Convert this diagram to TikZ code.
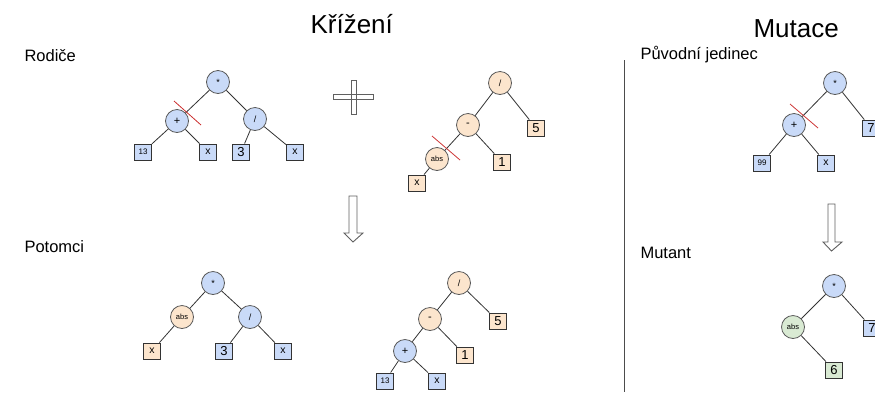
\documentclass[tikz,border=0pt]{standalone}
\usepackage{fontspec}
\setmainfont{Liberation Sans}
\definecolor{bl}{HTML}{C9DAF8}
\definecolor{or}{HTML}{FCE5CD}
\definecolor{gr}{HTML}{D9EAD3}
\definecolor{edgec}{HTML}{333333}
\definecolor{cutc}{HTML}{CC3333}
\begin{document}
\begin{tikzpicture}[x=1pt,y=-1pt,
  op/.style={circle, draw=gray!70!black, line width=0.8pt, minimum size=23pt, inner sep=0pt, font=\fontsize{9}{9}\selectfont},
  absop/.style={op, font=\fontsize{7.5}{7.5}\selectfont},
  leaf/.style={rectangle, draw=gray!40!black, line width=0.9pt, minimum width=17pt, minimum height=16pt, inner sep=0pt, font=\fontsize{13}{13}\selectfont},
  sleaf/.style={leaf, font=\fontsize{8}{8}\selectfont},
  xleaf/.style={leaf, font=\fontsize{10.5}{10.5}\selectfont},
  edge/.style={draw=edgec, line width=0.8pt},
  cut/.style={draw=cutc, line width=0.8pt},
  outl/.style={draw=gray!75!black, line width=0.9pt, fill=white},
  lab/.style={anchor=base west, font=\fontsize{16.5}{16.5}\selectfont},
  title/.style={anchor=base west, font=\fontsize{26}{26}\selectfont}]
\useasboundingbox (0,0) rectangle (875,392);
% titles and labels
\node[title] (tk) at (307,33) {Křížení};
\node[title] (tm) at (750,37) {Mutace};
\node[lab] (lr) at (21,61) {Rodiče};
\node[lab] (lp) at (21,252) {Potomci};
\node[lab] (lpj) at (637,59) {Původní jedinec};
\node[lab] (lm) at (637,258) {Mutant};
% separator
\coordinate (s1) at (624,60);
\coordinate (s2) at (624,392);
\draw[draw=gray!60!black, line width=0.9pt] (s1) -- (s2);
% plus sign
\draw[outl] (333,94) rectangle (373,99);
\draw[draw=gray!75!black, line width=0.9pt] (351,80) rectangle (356,114);
% arrows
\draw[outl] (349,196) -- (357,196) -- (357,233) -- (363,233) -- (353,242) -- (344,233) -- (349,233) -- cycle;
\draw[outl] (828,204) -- (835,204) -- (835,242) -- (842,242) -- (831.5,251) -- (823,242) -- (828,242) -- cycle;
% Tree 1
\node[op, fill=bl] (r1) at (218,82) {*};
\node[op, fill=bl] (a1) at (177,121) {\fontsize{11}{11}\selectfont +};
\node[op, fill=bl] (b1) at (255,119) {/};
\node[sleaf, fill=bl] (l11) at (143,152) {13};
\node[xleaf, fill=bl] (l12) at (208,152) {x};
\node[leaf, fill=bl] (l13) at (241,152) {3};
\node[xleaf, fill=bl] (l14) at (295,152) {x};
\draw[edge] (r1) -- (a1); \draw[edge] (r1) -- (b1);
\draw[edge] (a1) -- (l11); \draw[edge] (a1) -- (l12);
\draw[edge] (b1) -- (l13); \draw[edge] (b1) -- (l14);
\coordinate (c1a) at (174,101); \coordinate (c1b) at (201,125);
\draw[cut] (c1a) -- (c1b);
% Tree 2
\node[op, fill=or] (r2) at (500,83) {/};
\node[op, fill=or] (m2) at (468,125) {\fontsize{11}{11}\selectfont -};
\node[leaf, fill=or] (f2) at (536,128) {5};
\node[leaf, fill=or] (o2) at (502,162) {1};
\node[absop, fill=or] (abs2) at (437,159) {abs};
\node[xleaf, fill=or] (x2) at (417,183) {x};
\draw[edge] (r2) -- (m2); \draw[edge] (r2) -- (f2);
\draw[edge] (m2) -- (abs2); \draw[edge] (m2) -- (o2);
\draw[edge] (abs2) -- (x2);
\coordinate (c2a) at (432,136); \coordinate (c2b) at (460,160);
\draw[cut] (c2a) -- (c2b);
% Tree 3
\node[op, fill=bl] (r3) at (213,283) {*};
\node[absop, fill=or] (abs3) at (182,317) {abs};
\node[op, fill=bl] (d3) at (250,317) {/};
\node[xleaf, fill=or] (x3) at (152,351) {x};
\node[leaf, fill=bl] (t3) at (224,351) {3};
\node[xleaf, fill=bl] (y3) at (283,351) {x};
\draw[edge] (r3) -- (abs3); \draw[edge] (r3) -- (d3);
\draw[edge] (abs3) -- (x3);
\draw[edge] (d3) -- (t3); \draw[edge] (d3) -- (y3);
% Tree 4
\node[op, fill=or] (r4) at (459,283) {/};
\node[op, fill=or] (m4) at (430,319) {\fontsize{11}{11}\selectfont -};
\node[leaf, fill=or] (f4) at (498,321) {5};
\node[leaf, fill=or] (o4) at (465,355) {1};
\node[op, fill=bl] (p4) at (405,351) {\fontsize{11}{11}\selectfont +};
\node[sleaf, fill=bl] (t4) at (385,381) {13};
\node[xleaf, fill=bl] (x4) at (437,381) {x};
\draw[edge] (r4) -- (m4); \draw[edge] (r4) -- (f4);
\draw[edge] (m4) -- (p4); \draw[edge] (m4) -- (o4);
\draw[edge] (p4) -- (t4); \draw[edge] (p4) -- (x4);
% Tree 5
\node[op, fill=bl] (r5) at (835,83) {*};
\node[op, fill=bl] (p5) at (794,125) {\fontsize{11}{11}\selectfont +};
\node[sleaf, fill=bl] (n5) at (762,163) {99};
\node[xleaf, fill=bl] (x5) at (826,163) {x};
\node[leaf, fill=bl] (s5) at (871,128) {7};
\draw[edge] (r5) -- (p5); \draw[edge] (r5) -- (s5);
\draw[edge] (p5) -- (n5); \draw[edge] (p5) -- (x5);
\coordinate (c5a) at (790,104); \coordinate (c5b) at (818,128);
\draw[cut] (c5a) -- (c5b);
% Tree 6
\node[op, fill=bl] (r6) at (834,286) {*};
\node[absop, fill=gr] (abs6) at (793,327) {abs};
\node[leaf, fill=bl] (s6) at (872,328) {7};
\node[leaf, fill=gr] (six) at (834,370) {6};
\draw[edge] (r6) -- (abs6); \draw[edge] (r6) -- (s6);
\draw[edge] (abs6) -- (six);
\end{tikzpicture}
\end{document}
